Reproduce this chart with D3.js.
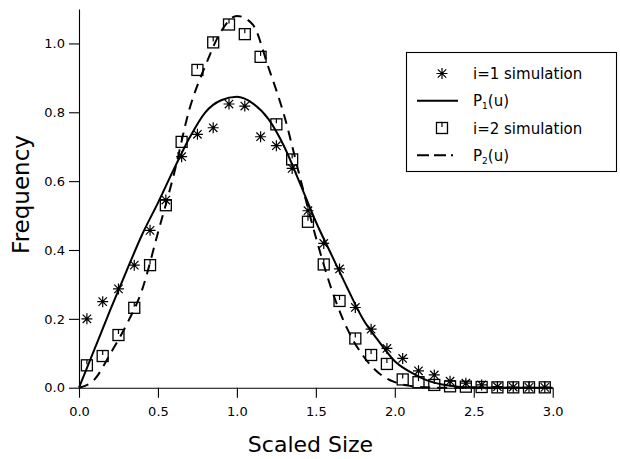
<!DOCTYPE html>
<html>
<head>
<meta charset="utf-8">
<script src="https://cdn.jsdelivr.net/npm/d3@7"></script>
<style>
  body { margin: 0; background: #fff; }
  svg { display: block; }
  text { font-family: "DejaVu Sans", sans-serif; fill: #000; }
</style>
</head>
<body>
<svg id="chart" width="620" height="459"></svg>
<script>
// bin centres of the scaled size
var sizes = [0.05, 0.15, 0.25, 0.35, 0.45, 0.55, 0.65, 0.75, 0.85, 0.95,
             1.05, 1.15, 1.25, 1.35, 1.45, 1.55, 1.65, 1.75, 1.85, 1.95,
             2.05, 2.15, 2.25, 2.35, 2.45, 2.55, 2.65, 2.75, 2.85, 2.95];

// i=1 simulation (asterisks)
var sim1 = [0.200, 0.250, 0.287, 0.356, 0.457, 0.545, 0.671, 0.736, 0.755, 0.824,
            0.818, 0.729, 0.703, 0.637, 0.514, 0.419, 0.345, 0.233, 0.170, 0.114,
            0.085, 0.049, 0.037, 0.019, 0.013, 0.008, 0.003, 0.002, 0.001, 0.001];

// i=2 simulation (squares)
var sim2 = [0.065, 0.092, 0.153, 0.232, 0.356, 0.530, 0.714, 0.923, 1.003, 1.055,
            1.027, 0.961, 0.765, 0.663, 0.482, 0.358, 0.252, 0.143, 0.095, 0.069,
            0.024, 0.016, 0.008, 0.004, 0.003, 0.002, 0.001, 0.001, 0.001, 0.001];

// theory curves
var curveU = [0.0, 0.1, 0.2, 0.3, 0.4, 0.5, 0.6, 0.7, 0.8, 0.9, 1.0,
              1.1, 1.2, 1.3, 1.4, 1.5, 1.6, 1.7, 1.8, 1.9, 2.0,
              2.1, 2.2, 2.3, 2.4, 2.5, 2.6, 2.7, 2.8, 2.9, 3.0];
var p1 = [0.000, 0.114, 0.228, 0.338, 0.445, 0.537, 0.634, 0.726, 0.800, 0.835, 0.845,
          0.826, 0.780, 0.700, 0.593, 0.482, 0.385, 0.289, 0.198, 0.134, 0.077,
          0.045, 0.022, 0.009, 0.003, 0.001, 0.000, 0.000, 0.000, 0.000, 0.000];
var p2 = [0.000, 0.025, 0.100, 0.182, 0.285, 0.450, 0.618, 0.810, 0.935, 1.035, 1.080,
          1.055, 0.930, 0.790, 0.610, 0.437, 0.285, 0.170, 0.092, 0.042, 0.016,
          0.005, 0.001, 0.000, 0.000, 0.000, 0.000, 0.000, 0.000, 0.000, 0.000];

var xTicks = [0, 0.5, 1.0, 1.5, 2.0, 2.5, 3.0];
var yTicks = [0, 0.2, 0.4, 0.6, 0.8, 1.0];

var legendLabels = ['i=1 simulation', 'P', 'i=2 simulation', 'P'];

var svg = d3.select('#chart');

var x = d3.scaleLinear().domain([0, 3]).range([79, 552.7]);
var y = d3.scaleLinear().domain([0, 1.1]).range([387.7, 9]);

// axes
var xAxis = d3.axisBottom(x).tickValues(xTicks).tickFormat(d3.format('.1f'))
  .tickSize(10).tickSizeOuter(0).tickPadding(9);
var yAxis = d3.axisLeft(y).tickValues(yTicks).tickFormat(d3.format('.1f'))
  .tickSize(10).tickSizeOuter(0).tickPadding(4);

var gx = svg.append('g').attr('transform', 'translate(0,' + y(0) + ')').call(xAxis);
var gy = svg.append('g').attr('transform', 'translate(' + x(0) + ',0)').call(yAxis);
[gx, gy].forEach(function(g) {
  g.selectAll('path, line').attr('stroke', '#000').attr('stroke-width', 1.1);
  g.selectAll('text').attr('font-family', '"DejaVu Sans", sans-serif')
    .attr('font-size', 13).attr('fill', '#000');
});

svg.append('text').attr('x', 310.5).attr('y', 452)
  .attr('text-anchor', 'middle').attr('font-size', 22).text('Scaled Size');
svg.append('text').attr('transform', 'translate(29,194.5) rotate(-90)')
  .attr('text-anchor', 'middle').attr('font-size', 23).text('Frequency');

// theory curves
var line = d3.line().x(function(d, i) { return x(curveU[i]); })
  .y(function(d) { return y(d); }).curve(d3.curveMonotoneX);

svg.append('path').datum(p1).attr('d', line)
  .attr('fill', 'none').attr('stroke', '#000').attr('stroke-width', 2);
svg.append('path').datum(p2).attr('d', line)
  .attr('fill', 'none').attr('stroke', '#000').attr('stroke-width', 2)
  .attr('stroke-dasharray', '10,7');

// marker shapes
function asterisk(g) {
  var r = 5.5, d = 4.2;
  g.append('path')
    .attr('d', 'M0,' + -r + 'V' + r + 'M' + -r + ',0H' + r +
      'M' + -d + ',' + -d + 'L' + d + ',' + d + 'M' + -d + ',' + d + 'L' + d + ',' + -d)
    .attr('stroke', '#000').attr('stroke-width', 1.2).attr('fill', 'none');
}
function square(g) {
  var h = 5.5;
  g.append('rect').attr('x', -h).attr('y', -h).attr('width', 2 * h).attr('height', 2 * h)
    .attr('fill', 'none').attr('stroke', '#000').attr('stroke-width', 1.3);
  g.append('line').attr('x1', 0).attr('x2', 0).attr('y1', -h).attr('y2', -h + 4.5)
    .attr('stroke', '#000').attr('stroke-width', 1.2);
}

svg.append('g').selectAll('g').data(sim2).enter().append('g')
  .attr('transform', function(d, i) { return 'translate(' + x(sizes[i]) + ',' + y(d) + ')'; })
  .each(function() { square(d3.select(this)); });

svg.append('g').selectAll('g').data(sim1).enter().append('g')
  .attr('transform', function(d, i) { return 'translate(' + x(sizes[i]) + ',' + y(d) + ')'; })
  .each(function() { asterisk(d3.select(this)); });

// legend
var lg = svg.append('g');
lg.append('rect').attr('x', 406.5).attr('y', 52.5).attr('width', 210).attr('height', 119)
  .attr('fill', '#fff').attr('stroke', '#000').attr('stroke-width', 1.1);

var rowY = [73.5, 100.8, 128, 155.3];
asterisk(lg.append('g').attr('transform', 'translate(442,' + rowY[0] + ')'));
lg.append('line').attr('x1', 417).attr('x2', 458).attr('y1', rowY[1]).attr('y2', rowY[1])
  .attr('stroke', '#000').attr('stroke-width', 2);
square(lg.append('g').attr('transform', 'translate(442,' + rowY[2] + ')'));
lg.append('line').attr('x1', 417).attr('x2', 460).attr('y1', rowY[3]).attr('y2', rowY[3])
  .attr('stroke', '#000').attr('stroke-width', 2).attr('stroke-dasharray', '12,5,12,5,2,50');

legendLabels.forEach(function(lab, i) {
  var t = lg.append('text').attr('x', 473).attr('y', rowY[i] + 5.5).attr('font-size', 15);
  if (lab === 'P') {
    t.append('tspan').text('P');
    t.append('tspan').attr('font-size', 9).attr('dy', 3).text(i === 1 ? '1' : '2');
    t.append('tspan').attr('dy', -3).text('(u)');
  } else {
    t.text(lab);
  }
});
</script>
</body>
</html>
